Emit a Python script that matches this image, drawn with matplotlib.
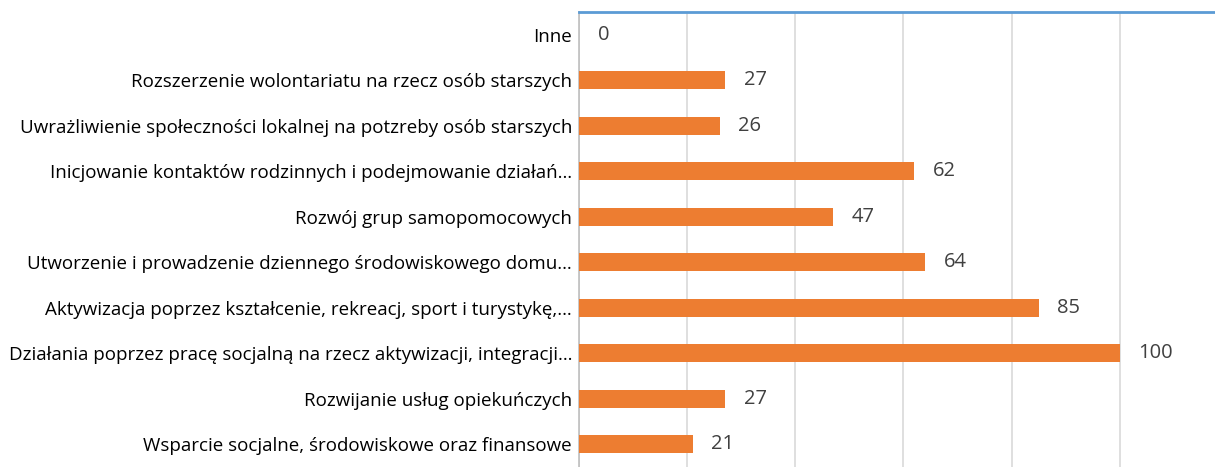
import matplotlib.pyplot as plt

# dane z wykresu (od góry do dołu)
categories = [
    "Inne",
    "Rozszerzenie wolontariatu na rzecz osób starszych",
    "Uwrażliwienie społeczności lokalnej na potzreby osób starszych",
    "Inicjowanie kontaktów rodzinnych i podejmowanie działań…",
    "Rozwój grup samopomocowych",
    "Utworzenie i prowadzenie dziennego środowiskowego domu…",
    "Aktywizacja poprzez kształcenie, rekreacj, sport i turystykę,…",
    "Działania poprzez pracę socjalną na rzecz aktywizacji, integracji…",
    "Rozwijanie usług opiekuńczych",
    "Wsparcie socjalne, środowiskowe oraz finansowe",
]
values = [0, 27, 26, 62, 47, 64, 85, 100, 27, 21]
xticks = [0, 20, 40, 60, 80, 100]

plt.rcParams['font.family'] = ['Open Sans', 'DejaVu Sans']

fig = plt.figure(figsize=(12.15, 4.67), dpi=100)
ax = fig.add_axes([0.4765, 0.0, 0.5235, 0.974])

pos = list(range(len(categories)))
ax.barh(pos, values, height=0.4, color="#ed7d31", zorder=3)
for p, v in zip(pos, values):
    ax.annotate(str(v), (v, p), xytext=(13.5, 0), textcoords="offset points",
                va="center", ha="left", fontsize=14.5, color="#404040")

ax.set_ylim(len(categories) - 0.5, -0.5)
ax.set_xlim(0, 117.6)
ax.set_xticks(xticks)
ax.set_xticklabels([])
ax.tick_params(axis="x", length=0)
ax.set_yticks(pos)
ax.set_yticklabels(categories, fontsize=13.5, color="#000000")
ax.tick_params(axis="y", length=0, pad=5)
ax.grid(axis="x", color="#d9d9d9", linewidth=1.2, zorder=0)

for s in ["right", "bottom"]:
    ax.spines[s].set_visible(False)
ax.spines["left"].set_color("#bfbfbf")
ax.spines["left"].set_linewidth(1.2)
ax.spines["top"].set_color("#5b9bd5")
ax.spines["top"].set_linewidth(2)

fig.savefig("out.png", dpi=100)
